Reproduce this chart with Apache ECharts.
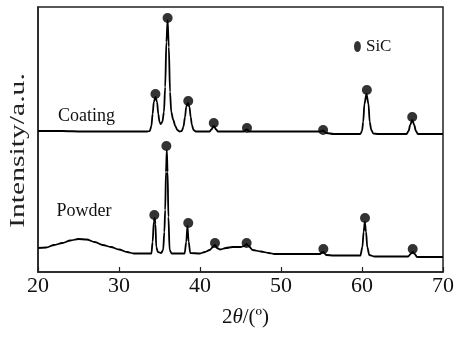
<!DOCTYPE html>
<html><head><meta charset="utf-8">
<script src="https://cdn.jsdelivr.net/npm/echarts@6/dist/echarts.min.js"></script>
<style>html,body{margin:0;padding:0;background:#fff}#c{width:460px;height:338px}</style>
</head><body><div id="c"></div>
<script>
// x: 2theta (deg), y: intensity (arbitrary units, curves offset as in the figure)
const xTicks = [20, 30, 40, 50, 60, 70];
const coating = [[20,141],[23,141],[25.5,140.5],[30,140.5],[33.5,140.5],[33.8,141],[34.0,146],[34.15,158],[34.3,170],[34.5,175],[34.7,170],[34.85,158],[35.0,150],[35.15,148],[35.35,150],[35.55,160],[35.7,185],[35.85,230],[36.0,252],[36.15,225],[36.3,180],[36.45,160],[36.7,152],[36.95,146],[37.2,142],[37.5,140.5],[37.75,141],[37.95,145],[38.15,155],[38.3,165],[38.5,169],[38.7,165],[38.85,155],[39.0,147],[39.2,142],[39.5,140.5],[41.2,140.5],[41.4,142.5],[41.7,146],[42.0,142.5],[42.2,140.5],[45.4,140.5],[45.75,142.5],[46.1,140.5],[54.8,140.5],[55.2,141.5],[55.6,139],[56.5,138],[59.8,138],[60.0,141],[60.15,150],[60.3,168],[60.55,178],[60.8,168],[60.95,150],[61.15,142],[61.4,138.5],[62,138],[65.5,138],[65.75,141],[65.95,147],[66.2,152],[66.45,147],[66.65,141],[66.9,138],[70,138]];
const powder = [[20,24],[21,24.5],[22,27],[23,29],[24,31.5],[25,33],[26,32.5],[27,30],[28,27],[29,25],[30,22.5],[31,20],[31.8,18.5],[34.0,18.5],[34.15,30],[34.3,50],[34.4,54],[34.5,48],[34.6,25],[34.8,20],[35.2,19],[35.45,22],[35.6,40],[35.7,62],[35.8,100],[35.9,122],[36.0,100],[36.1,55],[36.25,22],[36.5,18.5],[38.1,18.5],[38.3,30],[38.45,46],[38.6,30],[38.8,19],[40.0,18.5],[40.6,20],[41.2,22],[41.6,25],[41.85,27],[42.1,24],[42.5,22.5],[43.2,24],[44,25],[45,25],[45.5,26],[45.75,28],[46.0,26],[46.5,22],[47.5,20.5],[48.5,19],[49.2,18],[54.8,18],[55.2,20],[55.6,17],[56.5,16.5],[59.8,16.5],[60.05,25],[60.2,40],[60.35,50],[60.5,40],[60.65,25],[60.9,17],[61.5,15.5],[65.7,15.5],[66.0,18],[66.25,20],[66.5,18],[66.8,15],[70,15]];
const coatingPeaks = [[34.5,178],[36.0,254],[38.55,171],[41.7,149],[45.8,144],[55.2,142],[60.6,182],[66.2,155]];
const powderPeaks = [[34.36,57],[35.85,126],[38.55,49],[41.85,29],[45.76,29],[55.23,23],[60.37,54],[66.26,23]];
const sampleNames = ['Coating', 'Powder'];
const phaseName = 'SiC';

const serif = '"Liberation Serif","Times New Roman",serif';
const chart = echarts.init(document.getElementById('c'), null, {renderer:'canvas'});
const lineStyle = {color:'#000', width:1.8};
chart.setOption({
  animation:false,
  backgroundColor:'#fff',
  grid:{left:38, right:17, top:7, bottom:66, show:true, borderColor:'#222', borderWidth:1.5},
  xAxis:{type:'value', min:xTicks[0], max:xTicks[xTicks.length-1], interval:10,
    axisLine:{show:true, lineStyle:{color:'#222', width:1.5}},
    axisTick:{show:true, inside:true, length:5, lineStyle:{color:'#222', width:1.2}},
    axisLabel:{fontFamily:serif, fontSize:22, color:'#111', margin:3},
    splitLine:{show:false},
    name:'2{i|θ}/(º)', nameLocation:'middle', nameGap:35,
    nameTextStyle:{fontFamily:serif, fontSize:21, color:'#111', padding:[0,0,0,10],
      rich:{i:{fontFamily:serif, fontSize:21, fontStyle:'italic', color:'#111'}}}
  },
  yAxis:{type:'value', min:0, max:265, axisLine:{show:true, lineStyle:{color:'#222', width:1.5}},
    axisTick:{show:false}, axisLabel:{show:false}, splitLine:{show:false}},
  legend:{data:[{name:phaseName, icon:'path://M5,0A5,8,0,1,1,5,16A5,8,0,1,1,5,0Z'}], left:349, top:33, itemWidth:7, itemHeight:11, itemGap:5,
    textStyle:{fontFamily:serif, fontSize:17, color:'#111'}},
  series:[
    {name:sampleNames[0], type:'line', data:coating, showSymbol:false, smooth:0.3, smoothMonotone:'x', lineStyle:lineStyle, z:2},
    {name:sampleNames[1], type:'line', data:powder, showSymbol:false, smooth:0.3, smoothMonotone:'x', lineStyle:lineStyle, z:2},
    {name:phaseName, type:'scatter', data:coatingPeaks, symbol:'circle', symbolSize:10, itemStyle:{color:'#000'}, z:5},
    {name:phaseName, type:'scatter', data:powderPeaks, symbol:'circle', symbolSize:10, itemStyle:{color:'#000'}, z:5}
  ],
  graphic:[
    {type:'text', x:58, y:116, style:{text:sampleNames[0], font:'18px '+serif, fill:'#111', align:'left', verticalAlign:'middle'}},
    {type:'text', x:56.5, y:211.5, style:{text:sampleNames[1], font:'18px '+serif, fill:'#111', align:'left', verticalAlign:'middle'}},
    {type:'text', x:18, y:150.5, rotation:Math.PI/2, scaleX:1.41, style:{text:'Intensity/a.u.', font:'21px '+serif, fill:'#222', align:'center', verticalAlign:'middle'}}
  ]
});
</script></body></html>
